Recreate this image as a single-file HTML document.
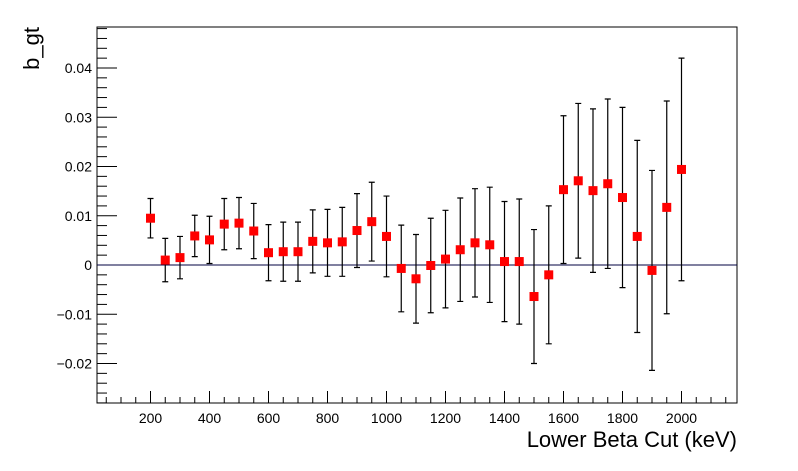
<!DOCTYPE html>
<html><head><meta charset="utf-8"><style>body{margin:0;background:#fff}svg{display:block}text{font-family:"Liberation Sans",sans-serif}</style></head>
<body>
<svg id="c" width="798" height="471"></svg>
<script>
const cuts=[200,250,300,350,400,450,500,550,600,650,700,750,800,850,900,950,1000,1050,1100,1150,1200,1250,1300,1350,1400,1450,1500,1550,1600,1650,1700,1750,1800,1850,1900,1950,2000];
const vals=[0.0095,0.001,0.0015,0.0059,0.0051,0.0083,0.0085,0.0069,0.0025,0.0027,0.0027,0.0048,0.0045,0.0047,0.0070,0.0088,0.0058,-0.0007,-0.0028,-0.0001,0.0012,0.0031,0.0045,0.0041,0.0007,0.0007,-0.0064,-0.002,0.0153,0.0171,0.0151,0.0165,0.0137,0.0058,-0.0011,0.0117,0.0194];
const errs=[0.004,0.0044,0.0043,0.0042,0.0048,0.0052,0.0052,0.0056,0.0057,0.006,0.006,0.0064,0.0068,0.007,0.0075,0.008,0.0082,0.0088,0.009,0.0096,0.0099,0.0105,0.011,0.0117,0.0122,0.0127,0.0136,0.014,0.015,0.0157,0.0166,0.0172,0.0183,0.0195,0.0203,0.0216,0.0226];
const xTicks=[200,400,600,800,1000,1200,1400,1600,1800,2000];
const yTicks=[-0.02,-0.01,0,0.01,0.02,0.03,0.04];
const yTickLabels=["\u22120.02","\u22120.01","0","0.01","0.02","0.03","0.04"];
const L=97,R=737,T=27,B=403;
const X=v=>150.5+(v-200)*0.295;
const Y=v=>265-v*4925;
const svg=document.getElementById('c');
const NS='http://www.w3.org/2000/svg';
function mk(tag,attrs,parent){const e=document.createElementNS(NS,tag);for(const k in attrs)e.setAttribute(k,attrs[k]);(parent||svg).appendChild(e);return e;}
let e;
e=mk('rect',{x:L,y:T,width:R-L,height:B-T,fill:'none',stroke:'#000','stroke-width':1});


const ax=mk('g',{stroke:'#000','stroke-width':1});


for(let i=-14;i<=24;i++){const v=i*0.002;const y=Y(v);if(y<T||y>B)continue;const maj=(i%5===0);mk('line',{x1:L,x2:L+(maj?20:10),y1:y,y2:y},ax);}
for(let v=50;v<=2150;v+=50){const x=X(v);if(x<L||x>R)continue;const maj=(v%200===0);mk('line',{x1:x,x2:x,y1:B,y2:B-(maj?12:6)},ax);}
yTicks.forEach((v,i)=>{e=mk('text',{x:L-5,y:Y(v)+5,'text-anchor':'end','font-size':14});e.textContent=yTickLabels[i];

});
xTicks.forEach(v=>{e=mk('text',{x:X(v),y:B+20,'text-anchor':'middle','font-size':14});e.textContent=v;

});
e=mk('line',{x1:L,x2:R,y1:Y(0),y2:Y(0),stroke:'#000040','stroke-width':1});


const g=mk('g',{});


cuts.forEach((c,i)=>{const x=X(c),y=Y(vals[i]),t=Y(vals[i]+errs[i]),b=Y(vals[i]-errs[i]);
e=mk('path',{d:`M${x},${t}V${b}M${x-3},${t}H${x+3}M${x-3},${b}H${x+3}`,stroke:'#000','stroke-width':1.2,fill:'none'},g);


e=mk('rect',{x:x-4.5,y:y-4.5,width:9,height:9,fill:'#f00'},g);

});
e=mk('text',{x:R,y:447,'text-anchor':'end','font-size':22});e.textContent='Lower Beta Cut (keV)';


e=mk('text',{x:0,y:0,'text-anchor':'end','font-size':22,transform:'translate(39,27) rotate(-90)'});e.textContent='b_gt';


</script>
</body></html>
